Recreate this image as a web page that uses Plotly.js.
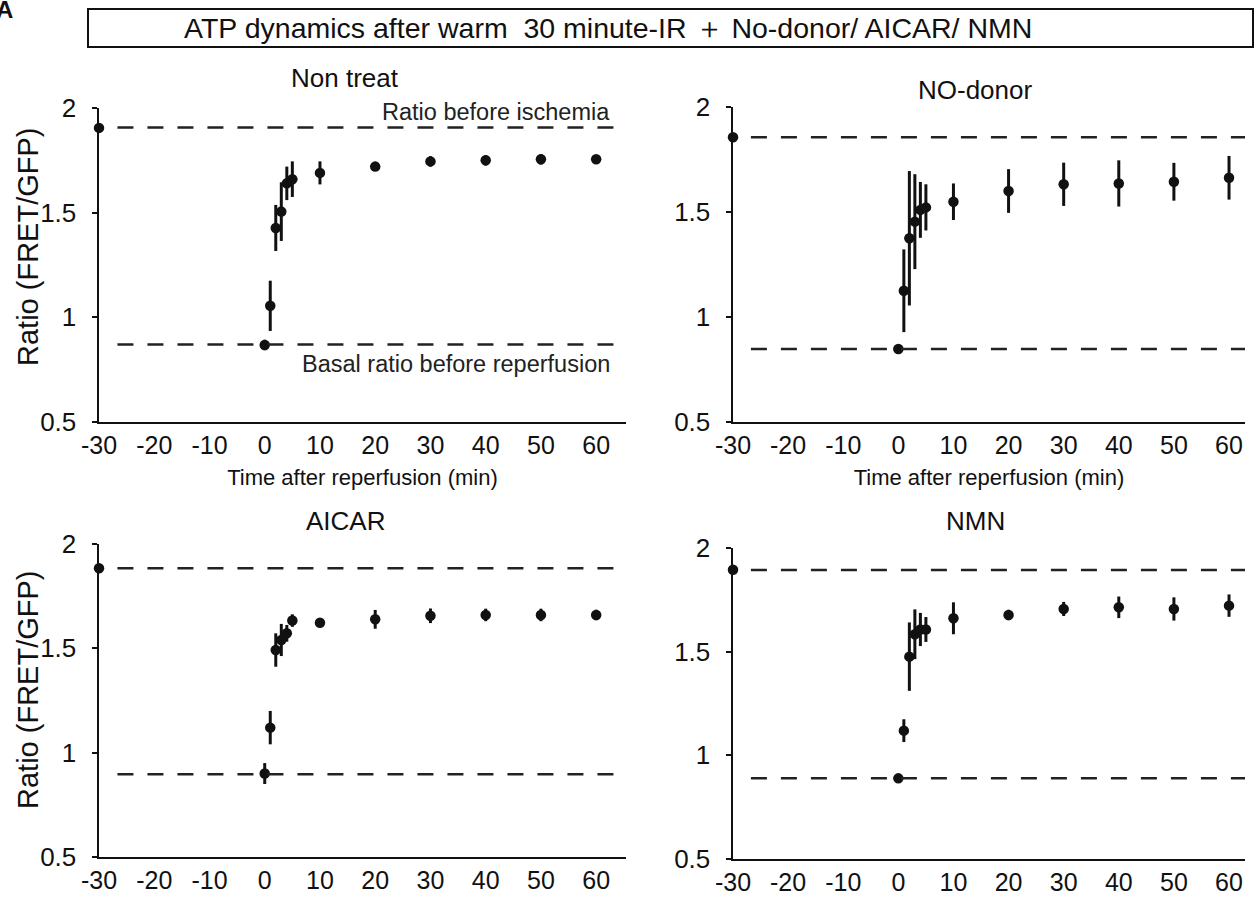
<!DOCTYPE html>
<html>
<head>
<meta charset="utf-8">
<script src="https://cdn.plot.ly/plotly-3.0.1.min.js"></script>
<style>html,body{margin:0;padding:0;background:#fff;}#chart{width:1258px;height:902px;}</style>
</head>
<body>
<div id="chart"></div>
<script>
// Time after reperfusion (min); -30 = before ischemia
const times = [-30, 0, 1, 2, 3, 4, 5, 10, 20, 30, 40, 50, 60];
const xTicks = [-30, -20, -10, 0, 10, 20, 30, 40, 50, 60];
const xTickText = ["-30", "-20", "-10", "0", "10", "20", "30", "40", "50", "60"];
const yTicks = [0.5, 1, 1.5, 2];
const yTickText = ["0.5", "1", "1.5", "2"];

const panelNames = ["Non treat", "NO-donor", "AICAR", "NMN"];

const nonTreat    = [1.905, 0.868, 1.055, 1.427, 1.505, 1.640, 1.660, 1.690, 1.720, 1.745, 1.750, 1.755, 1.755];
const nonTreatErr = [0.020, 0.025, 0.120, 0.110, 0.140, 0.080, 0.085, 0.055, 0.020, 0.025, 0.025, 0.025, 0.020];

const noDonor     = [1.856, 0.848, 1.125, 1.375, 1.454, 1.510, 1.522, 1.549, 1.600, 1.632, 1.636, 1.644, 1.663];
const noDonorErr  = [0.020, 0.015, 0.197, 0.320, 0.226, 0.133, 0.110, 0.087, 0.104, 0.103, 0.110, 0.090, 0.104];

const aicar       = [1.884, 0.900, 1.120, 1.492, 1.540, 1.572, 1.633, 1.623, 1.639, 1.656, 1.660, 1.660, 1.660];
const aicarErr    = [0.020, 0.050, 0.080, 0.080, 0.077, 0.040, 0.030, 0.020, 0.045, 0.035, 0.030, 0.030, 0.025];

const nmn         = [1.895, 0.889, 1.119, 1.476, 1.584, 1.607, 1.607, 1.661, 1.677, 1.706, 1.714, 1.706, 1.722];
const nmnErr      = [0.020, 0.015, 0.055, 0.165, 0.120, 0.080, 0.060, 0.077, 0.025, 0.034, 0.052, 0.056, 0.054];

// Reference dashed levels
const ratioBeforeIschemia = [1.907, 1.856, 1.884, 1.894];
const basalRatio          = [0.870, 0.848, 0.896, 0.889];

const series = [nonTreat, noDonor, aicar, nmn];
const errors = [nonTreatErr, noDonorErr, aicarErr, nmnErr];

const W = 1258, H = 902;
const axSuffix = ["", "2", "3", "4"];
const xDom = [[99/W, 626/W], [733/W, 1245/W], [99/W, 626/W], [733/W, 1245/W]];
const yDom = [[1-422/H, 1-108/H], [1-422/H, 1-107/H], [1-857/H, 1-544/H], [1-859/H, 1-548/H]];
const xMax = [65.4, 62.9, 65.4, 62.9];

const fontFam = "Liberation Sans, Arial, Helvetica, sans-serif";
const ink = "#111111";

const traces = series.map((s, i) => ({
  type: "scatter",
  mode: "markers",
  x: times,
  y: s,
  xaxis: "x" + axSuffix[i],
  yaxis: "y" + axSuffix[i],
  cliponaxis: false,
  marker: {size: 10.5, color: ink},
  error_y: {type: "data", array: errors[i], visible: true, color: ink, thickness: 3, width: 0},
  showlegend: false,
  hoverinfo: "x+y"
}));

const layout = {
  width: W, height: H,
  margin: {l: 0, r: 0, t: 0, b: 0},
  paper_bgcolor: "#ffffff",
  plot_bgcolor: "rgba(0,0,0,0)",
  font: {family: fontFam, size: 25, color: ink},
  showlegend: false,
  shapes: [],
  annotations: []
};

for (let i = 0; i < 4; i++) {
  const xa = {
    domain: xDom[i],
    anchor: "y" + axSuffix[i],
    range: [-30, xMax[i]],
    tickvals: xTicks,
    ticktext: xTickText,
    ticks: "",
    showline: true, linecolor: ink, linewidth: 2,
    showgrid: false, zeroline: false,
    tickfont: {size: 25, family: fontFam, color: ink}
  };
  if (i < 2) {
    xa.title = {text: "Time after reperfusion (min)", font: {size: 22, family: fontFam, color: ink}, standoff: 12};
  }
  const ya = {
    domain: yDom[i],
    anchor: "x" + axSuffix[i],
    range: [0.5, 2],
    tickvals: yTicks,
    ticktext: yTickText,
    ticks: "outside", ticklen: 5, tickwidth: 2, tickcolor: ink,
    ticklabelstandoff: 10,
    showline: true, linecolor: ink, linewidth: 2.5,
    showgrid: false, zeroline: false,
    tickfont: {size: 26, family: fontFam, color: ink}
  };
  layout["xaxis" + axSuffix[i]] = xa;
  layout["yaxis" + axSuffix[i]] = ya;

  [ratioBeforeIschemia[i], basalRatio[i]].forEach(v => {
    layout.shapes.push({
      type: "line", xref: "x" + axSuffix[i] + " domain", yref: "y" + axSuffix[i],
      x0: 0.035, x1: 1, y0: v, y1: v,
      line: {color: "#222", width: 2.5, dash: "16px,14px"}
    });
  });
}

// Y-axis titles (left column)
[[28, 247], [28, 690]].forEach(p => {
  layout.annotations.push({
    text: "Ratio (FRET/GFP)", xref: "paper", yref: "paper",
    x: p[0] / W, y: 1 - p[1] / H, xanchor: "center", yanchor: "middle",
    textangle: -90, showarrow: false,
    font: {size: 29, family: fontFam, color: ink}
  });
});

// Panel titles
const titlePos = [[345, 78], [975, 90], [345, 521], [975, 521]];
panelNames.forEach((t, i) => {
  layout.annotations.push({
    text: t, xref: "paper", yref: "paper",
    x: titlePos[i][0] / W, y: 1 - titlePos[i][1] / H,
    xanchor: "center", yanchor: "middle", showarrow: false,
    font: {size: 26, family: fontFam, color: ink}
  });
});

// Reference-line labels in first panel
layout.annotations.push({
  text: "Ratio before ischemia", xref: "paper", yref: "paper",
  x: 612 / W, y: 1 - 112 / H, xanchor: "right", yanchor: "middle", showarrow: false,
  font: {size: 23.5, family: fontFam, color: "#222"}
});
layout.annotations.push({
  text: "Basal ratio before reperfusion", xref: "paper", yref: "paper",
  x: 612 / W, y: 1 - 364 / H, xanchor: "right", yanchor: "middle", showarrow: false,
  font: {size: 23.5, family: fontFam, color: "#222"}
});

// Header box
layout.shapes.push({
  type: "rect", xref: "paper", yref: "paper",
  x0: 88 / W, x1: 1253 / W, y0: 1 - 47 / H, y1: 1 - 9 / H,
  line: {color: ink, width: 2}, fillcolor: "rgba(0,0,0,0)"
});
layout.annotations.push({
  text: "ATP dynamics after warm  30 minute-IR ＋ No-donor/ AICAR/ NMN",
  xref: "paper", yref: "paper",
  x: 608 / W, y: 1 - 28 / H, xanchor: "center", yanchor: "middle", showarrow: false,
  font: {size: 28.5, family: fontFam, color: ink}
});
// Panel letter (cut at the corner, as in the reference)
layout.annotations.push({
  text: "<b>A</b>", xref: "paper", yref: "paper",
  x: -6 / W, y: 1 + 6 / H, xanchor: "left", yanchor: "top", showarrow: false,
  font: {size: 24, family: fontFam, color: ink}
});

Plotly.newPlot("chart", traces, layout, {staticPlot: true});
</script>
</body>
</html>
